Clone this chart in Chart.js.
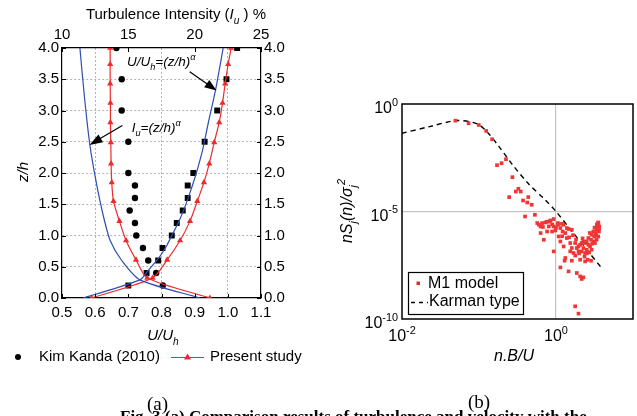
<!DOCTYPE html>
<html><head><meta charset="utf-8">
<script src="https://cdn.jsdelivr.net/npm/chart.js@4.4.0/dist/chart.umd.min.js"></script>
<style>
html,body{margin:0;padding:0;background:#fff;}
#wrap{position:relative;width:637px;height:416px;overflow:hidden;background:#fff;}
#cA{position:absolute;left:0;top:0;width:320px;height:416px;}
#cB{position:absolute;left:320px;top:0;width:317px;height:416px;}
.lab{position:absolute;font-family:'Liberation Serif','Times New Roman',serif;font-size:19px;line-height:1;color:#000;white-space:nowrap;}
</style></head><body>
<div id="wrap">
<canvas id="cA" width="320" height="416"></canvas>
<canvas id="cB" width="317" height="416"></canvas>
<div class="lab" style="left:147px;top:394px;">(a)</div>
<div class="lab" style="left:468px;top:392px;">(b)</div>
<div class="lab" style="left:120px;top:408px;font-weight:bold;font-size:17px;">Fig. 3 (a) Comparison results of turbulence and velocity with the</div>
</div>
<script>
// ---------- (a) profile data ----------
const zKim = [4.0,3.5,3.0,2.5,2.0,1.8,1.6,1.4,1.2,1.0,0.8,0.6,0.4,0.2];
const kimTI = [14.1,14.5,14.5,15.0,15.0,15.5,15.5,15.1,15.5,15.6,16.1,16.5,17.1,17.6];   // Turbulence intensity %
const kimU  = [1.028,0.996,0.968,0.930,0.896,0.879,0.879,0.864,0.846,0.831,0.803,0.790,0.755,0.700]; // U/Uh
const zPresent = [0,0.32,0.61,0.92,1.23,1.55,1.85,2.15,2.49,2.81,3.12,3.43,3.74,4.0];
const presentTI = [21.15,16.43,15.58,14.83,14.33,13.88,13.75,13.70,13.68,13.65,13.65,13.63,13.63,13.63];
const presentU  = [0.589,0.773,0.817,0.856,0.886,0.908,0.928,0.944,0.959,0.974,0.984,0.992,1.001,1.010];
const zPowU = [0,0.29,0.44,0.65,0.84,1.0,1.22,1.45,1.67,2.0,2.37,2.8,3.33,4.0];
const powU  = [0.564,0.735,0.760,0.793,0.816,0.831,0.852,0.870,0.885,0.905,0.924,0.941,0.963,0.986];
const zPowTI = [0,0.29,0.6,0.92,1.3,1.83,2.45,3.2,4.0];
const powTI  = [20.4,15.88,14.5,13.63,13.13,12.6,12.1,11.7,11.35];
const uTicks = [0.5,0.6,0.7,0.8,0.9,1.0,1.1];
const tiTicks = [10,15,20,25];
const zTicks = [0,0.5,1,1.5,2,2.5,3,3.5,4];

// ---------- (b) spectrum data (log10 values) ----------
const m1LogX = [-1.306,-1.135,-1.003,-0.907,-0.830,-0.766,-0.707,-0.650,-0.566,-0.608,-0.522,-0.488,-0.458,-0.428,-0.360,-0.373,-0.316,-0.402,-0.274,-0.244,-0.200,-0.136,-0.085,0.026,-0.030,0.099,0.141,0.206,0.549,0.562,
 -0.222,-0.180,-0.120,-0.072,-0.030,-0.200,-0.158,-0.116,-0.094,-0.051,-0.008,0.026,0.057,0.077,0.086,0.035,0.057,0.121,0.141,0.163,0.099,0.185,0.206,0.185,0.228,0.249,0.270,0.292,-0.030,0.121,0.112,0.206,0.057,0.163,0.270,0.314,0.334,0.356,0.249,0.292,0.378,0.314,0.411,0.455,
 0.549,0.540,0.527,0.514,0.497,0.485,0.463,0.455,0.420,0.398,0.378,0.356,0.334,0.314,0.292,0.485,0.442,0.463,0.398,0.378,0.334,0.549,0.558,0.506,0.420,0.356,0.527,
 0.44,0.50,0.53,0.47,0.40,0.30,0.26,0.22,0.17,-0.05,0.0,-0.17,0.37,0.43,0.56,0.52,0.345,0.25,0.08];
const m1LogY = [-0.775,-0.896,-0.975,-1.253,-1.639,-2.846,-2.753,-2.567,-3.403,-4.331,-4.071,-3.946,-4.071,-4.489,-4.331,-4.582,-4.689,-5.232,-5.153,-5.539,-5.696,-5.511,-5.464,-5.539,-5.696,-5.617,-5.771,-5.850,-5.539,-5.696,
 -5.617,-5.539,-5.480,-5.418,-5.353,-6.003,-6.314,-5.929,-5.696,-5.929,-5.882,-5.617,-5.771,-5.571,-5.929,-6.161,-6.393,-6.003,-6.235,-5.817,-6.625,-6.467,-6.699,-6.857,-6.931,-6.467,-6.699,-6.857,-6.857,-7.163,-7.289,-7.289,-7.600,-7.786,-7.860,-8.018,-8.138,-8.064,-9.410,-9.749,-7.321,-7.242,-7.242,-7.289,
 -5.511,-5.696,-5.850,-6.003,-6.161,-5.929,-6.082,-6.314,-6.235,-6.393,-6.467,-6.393,-6.467,-6.546,-6.625,-6.393,-6.625,-6.778,-6.778,-6.931,-6.857,-6.161,-5.929,-6.467,-6.546,-6.699,-6.314,
 -6.0,-5.75,-5.6,-6.5,-6.95,-6.95,-6.3,-6.1,-6.2,-5.6,-5.75,-5.72,-7.1,-6.9,-5.8,-6.1,-6.25,-7.05,-6.15];
const karmanLogX = [-2,-1.64,-1.29,-1.04,-0.91,-0.74,-0.57,-0.36,-0.14,0,0.21,0.42,0.59];
const karmanLogY = [-1.36,-1.05,-0.77,-0.90,-1.24,-1.98,-2.80,-3.70,-4.46,-5.0,-5.93,-6.86,-7.62];
const specXTickExp = [-2,0];
const specYTickExp = [0,-5,-10];

const SANS = "'Liberation Sans', Arial, sans-serif";
const RED = '#ee2b2b', BLUE = '#2d4fb0';

function zip(xs, ys){ return xs.map((v,i)=>({x:v,y:ys[i]})); }
function near(a,b){ return Math.abs(a-b)<1e-6; }

function setFont(ctx, size, it){ ctx.font = (it?'italic ':'') + size + 'px ' + SANS; }
function richWidth(ctx, parts, size){
  let w=0; for(const p of parts){ setFont(ctx, p.pos?size*0.68:size, p.it); w+=ctx.measureText(p.t).width; } return w;
}
function drawRich(ctx, parts, x, y, size, align){
  const w = richWidth(ctx, parts, size);
  let cx = align==='center' ? x-w/2 : align==='right' ? x-w : x;
  ctx.textAlign='left'; ctx.textBaseline='alphabetic'; ctx.fillStyle='#000';
  for(const p of parts){
    const s = p.pos?size*0.68:size; setFont(ctx, s, p.it);
    const dy = p.pos==='sub' ? size*0.32 : p.pos==='sup' ? -size*0.45 : 0;
    ctx.fillText(p.t, cx, y+dy); cx += ctx.measureText(p.t).width;
  }
}
function arrow(ctx, x1,y1,x2,y2, L, W){
  const a = Math.atan2(y2-y1, x2-x1), c=Math.cos(a), s=Math.sin(a);
  ctx.strokeStyle='#000'; ctx.fillStyle='#000'; ctx.lineWidth=1.2;
  ctx.beginPath(); ctx.moveTo(x1,y1); ctx.lineTo(x2-L*0.8*c, y2-L*0.8*s); ctx.stroke();
  ctx.beginPath(); ctx.moveTo(x2,y2);
  ctx.lineTo(x2-L*c+W*s, y2-L*s-W*c); ctx.lineTo(x2-L*c-W*s, y2-L*s+W*c);
  ctx.closePath(); ctx.fill();
}

// ================= Chart A =================
const gridCol = '#b4b4b4';
const annotA = {
  id:'annotA',
  afterDraw(chart){
    const ctx = chart.ctx, sx = chart.scales.x, sy = chart.scales.y, ca = chart.chartArea;
    ctx.save();
    // inward ticks
    ctx.strokeStyle='#000'; ctx.lineWidth=1;
    for(const v of zTicks){ const p=Math.round(sy.getPixelForValue(v))+0.5;
      ctx.beginPath(); ctx.moveTo(ca.left,p); ctx.lineTo(ca.left+4,p); ctx.moveTo(ca.right,p); ctx.lineTo(ca.right-4,p); ctx.stroke(); }
    for(const v of uTicks){ const p=Math.round(sx.getPixelForValue(v))+0.5;
      ctx.beginPath(); ctx.moveTo(p,ca.bottom); ctx.lineTo(p,ca.bottom-4); ctx.stroke(); }
    for(const v of tiTicks){ const p=Math.round(chart.scales.x2.getPixelForValue(v))+0.5;
      ctx.beginPath(); ctx.moveTo(p,ca.top); ctx.lineTo(p,ca.top+4); ctx.stroke(); }
    // axis titles
    drawRich(ctx,[{t:'Turbulence Intensity ('},{t:'I',it:1},{t:'u',it:1,pos:'sub'},{t:' ) %'}], 176, 19, 15, 'center');
    drawRich(ctx,[{t:'U/U',it:1},{t:'h',it:1,pos:'sub'}], 163, 340, 15, 'center');
    ctx.save(); ctx.translate(28,172); ctx.rotate(-Math.PI/2);
    drawRich(ctx,[{t:'z/h',it:1}], 0, 0, 15, 'center'); ctx.restore();
    // annotations (anchored to data coordinates)
    drawRich(ctx,[{t:'U/U',it:1},{t:'h',it:1,pos:'sub'},{t:'=(z/h)',it:1},{t:'α',it:1,pos:'sup'}], sx.getPixelForValue(0.696), sy.getPixelForValue(3.71), 13.5, 'left');
    drawRich(ctx,[{t:'I',it:1},{t:'u',it:1,pos:'sub'},{t:'=(z/h)',it:1},{t:'α',it:1,pos:'sup'}], sx.getPixelForValue(0.710), sy.getPixelForValue(2.655), 13.5, 'left');
    arrow(ctx, sx.getPixelForValue(0.885), sy.getPixelForValue(3.62), sx.getPixelForValue(0.966), sy.getPixelForValue(3.32), 12, 4.5);
    arrow(ctx, sx.getPixelForValue(0.682), sy.getPixelForValue(2.76), sx.getPixelForValue(0.583), sy.getPixelForValue(2.45), 13, 4.5);
    // legend
    ctx.fillStyle='#000'; ctx.beginPath(); ctx.arc(18,357,3,0,Math.PI*2); ctx.fill();
    setFont(ctx,15); ctx.textBaseline='middle'; ctx.textAlign='left';
    ctx.fillText('Kim Kanda (2010)', 39, 357);
    ctx.strokeStyle=RED; ctx.lineWidth=1.2; ctx.beginPath(); ctx.moveTo(171,357.5); ctx.lineTo(204,357.5); ctx.stroke();
    ctx.fillStyle=RED; ctx.beginPath(); ctx.moveTo(187.5,353.5); ctx.lineTo(191,359.5); ctx.lineTo(184,359.5); ctx.closePath(); ctx.fill();
    ctx.fillStyle='#000'; ctx.fillText('Present study', 210, 357);
    ctx.restore();
  }
};

const ptRad = 3.2;
new Chart(document.getElementById('cA'), {
  type:'scatter',
  data:{datasets:[
    {label:'Iu power law', data:zip(powTI,zPowTI), xAxisID:'x2', yAxisID:'y', showLine:true, borderColor:BLUE, borderWidth:1.2, pointRadius:0, tension:0.25},
    {label:'U power law', data:zip(powU,zPowU), xAxisID:'x', yAxisID:'y', showLine:true, borderColor:BLUE, borderWidth:1.2, pointRadius:0, tension:0.25},
    {label:'Present study TI', data:zip(presentTI,zPresent), xAxisID:'x2', yAxisID:'y', showLine:true, borderColor:RED, backgroundColor:RED, borderWidth:1.2, pointStyle:'triangle', pointRadius:3.6, pointBorderWidth:0, tension:0.25},
    {label:'Present study U', data:zip(presentU,zPresent), xAxisID:'x', yAxisID:'y', showLine:true, borderColor:RED, backgroundColor:RED, borderWidth:1.2, pointStyle:'triangle', pointRadius:3.6, pointBorderWidth:0, tension:0.25},
    {label:'Kim Kanda (2010) TI', data:zip(kimTI,zKim), xAxisID:'x2', yAxisID:'y', backgroundColor:'#000', borderColor:'#000', pointStyle:'circle', pointRadius:ptRad, pointBorderWidth:0},
    {label:'Kim Kanda (2010) U', data:zip(kimU,zKim), xAxisID:'x', yAxisID:'y', backgroundColor:'#000', borderColor:'#000', pointStyle:'rect', pointRadius:4.2, pointBorderWidth:0}
  ]},
  options:{
    responsive:false, animation:false, devicePixelRatio:1,
    layout:{padding:0},
    plugins:{legend:{display:false}, tooltip:{enabled:false}},
    scales:{
      x:{type:'linear', position:'bottom', min:0.5, max:1.1,
         afterBuildTicks:s=>{s.ticks=uTicks.map(v=>({value:v}));},
         afterFit:s=>{s.height=118;},
         ticks:{font:{family:SANS,size:15}, color:'#000', padding:6, maxRotation:0, autoSkip:false, callback:v=>v.toFixed(1)},
         grid:{drawTicks:false, lineWidth:1, color:c=>(c.tick&&[0.6,0.8,1.0].some(g=>near(g,c.tick.value)))?gridCol:'rgba(0,0,0,0)'},
         border:{display:true, color:'#000', width:1.2, dash:[2,2]}},
      x2:{type:'linear', position:'top', min:10, max:25,
         afterBuildTicks:s=>{s.ticks=tiTicks.map(v=>({value:v}));},
         afterFit:s=>{s.height=48;},
         ticks:{font:{family:SANS,size:15}, color:'#000', padding:4, maxRotation:0, autoSkip:false},
         grid:{drawTicks:false, drawOnChartArea:false},
         border:{display:true, color:'#000', width:1.2}},
      y:{type:'linear', position:'left', min:0, max:4,
         afterBuildTicks:s=>{s.ticks=zTicks.map(v=>({value:v}));},
         afterFit:s=>{s.width=62;},
         ticks:{font:{family:SANS,size:15}, color:'#000', padding:3, callback:v=>v.toFixed(1)},
         grid:{drawTicks:false, lineWidth:1, color:c=>(c.tick&&c.tick.value>0.01&&c.tick.value<3.99)?gridCol:'rgba(0,0,0,0)'},
         border:{display:true, color:'#000', width:1.2, dash:[2,2]}},
      y2:{type:'linear', position:'right', min:0, max:4,
         afterBuildTicks:s=>{s.ticks=zTicks.map(v=>({value:v}));},
         afterFit:s=>{s.width=59;},
         ticks:{font:{family:SANS,size:15}, color:'#000', padding:3, callback:v=>v.toFixed(1)},
         grid:{drawTicks:false, drawOnChartArea:false},
         border:{display:true, color:'#000', width:1.2}}
    }
  },
  plugins:[annotA]
});

// ================= Chart B =================
const annotB = {
  id:'annotB',
  afterDraw(chart){
    const ctx=chart.ctx, sx=chart.scales.x, sy=chart.scales.y, ca=chart.chartArea;
    ctx.save();
    // frame
    ctx.strokeStyle='#000'; ctx.lineWidth=1.5;
    ctx.strokeRect(ca.left, ca.top, ca.right-ca.left, ca.bottom-ca.top);
    // tick labels with superscripts
    for(const e of specYTickExp){
      const p = sy.getPixelForValue(Math.pow(10,e));
      drawRich(ctx,[{t:'10'},{t:e===0?'0':'-'+Math.abs(e),pos:'sup'}], ca.left-4, p+9, 16, 'right');
    }
    for(const e of specXTickExp){
      const p = sx.getPixelForValue(Math.pow(10,e));
      drawRich(ctx,[{t:'10'},{t:e===0?'0':'-'+Math.abs(e),pos:'sup'}], p, ca.bottom+22, 16, 'center');
    }
    // axis titles
    drawRich(ctx,[{t:'n.B/U',it:1}], 194, 361, 16, 'center');
    ctx.save(); ctx.translate(32,211); ctx.rotate(-Math.PI/2);
    drawRich(ctx,[{t:'nS',it:1},{t:'j',it:1,pos:'sub'},{t:'(n)/σ',it:1},{t:'j',it:1,pos:'sub'},{t:'2',it:1,pos:'sup'}], 0, 0, 16, 'center');
    ctx.restore();
    // legend box
    ctx.fillStyle='#fff'; ctx.fillRect(88.5,272.5,115,42);
    ctx.strokeStyle='#000'; ctx.lineWidth=1.2; ctx.strokeRect(88.5,272.5,115,42);
    ctx.fillStyle=RED; ctx.fillRect(96.5,281.5,3.5,3.5);
    ctx.fillStyle='#000'; setFont(ctx,16); ctx.textAlign='left'; ctx.textBaseline='middle';
    ctx.fillText('M1 model', 108, 284);
    ctx.strokeStyle='#000'; ctx.lineWidth=1.3; ctx.setLineDash([4,4]);
    ctx.beginPath(); ctx.moveTo(91,302.5); ctx.lineTo(108,302.5); ctx.stroke(); ctx.setLineDash([]);
    ctx.fillText('Karman type', 109, 302);
    ctx.restore();
  }
};

new Chart(document.getElementById('cB'), {
  type:'scatter',
  data:{datasets:[
    {label:'M1 model', data:m1LogX.map((v,i)=>({x:Math.pow(10,v), y:Math.pow(10,m1LogY[i])})),
     backgroundColor:'#f03535', borderColor:'#f03535', pointStyle:'rect', pointRadius:2.6, pointBorderWidth:0},
    {label:'Karman type', data:karmanLogX.map((v,i)=>({x:Math.pow(10,v), y:Math.pow(10,karmanLogY[i])})),
     showLine:true, borderColor:'#000', borderWidth:1.4, borderDash:[5,4], pointRadius:0, tension:0.3}
  ]},
  options:{
    responsive:false, animation:false, devicePixelRatio:1,
    layout:{padding:{top:104, right:2, left:0, bottom:0}},
    plugins:{legend:{display:false}, tooltip:{enabled:false}},
    scales:{
      x:{type:'logarithmic', position:'bottom', min:0.01, max:10,
         afterBuildTicks:s=>{s.ticks=specXTickExp.map(e=>({value:Math.pow(10,e)}));},
         afterFit:s=>{s.height=97;},
         ticks:{display:false},
         grid:{drawTicks:false, lineWidth:1.2, color:c=>(c.tick&&near(Math.log10(c.tick.value),0))?'#c4c4c4':'rgba(0,0,0,0)'},
         border:{display:false}},
      y:{type:'logarithmic', position:'left', min:1e-10, max:1,
         afterBuildTicks:s=>{s.ticks=specYTickExp.map(e=>({value:Math.pow(10,e)}));},
         afterFit:s=>{s.width=82;},
         ticks:{display:false},
         grid:{drawTicks:false, lineWidth:1.2, color:c=>(c.tick&&near(Math.log10(c.tick.value),-5))?'#c4c4c4':'rgba(0,0,0,0)'},
         border:{display:false}}
    }
  },
  plugins:[annotB]
});
</script>
</body></html>
